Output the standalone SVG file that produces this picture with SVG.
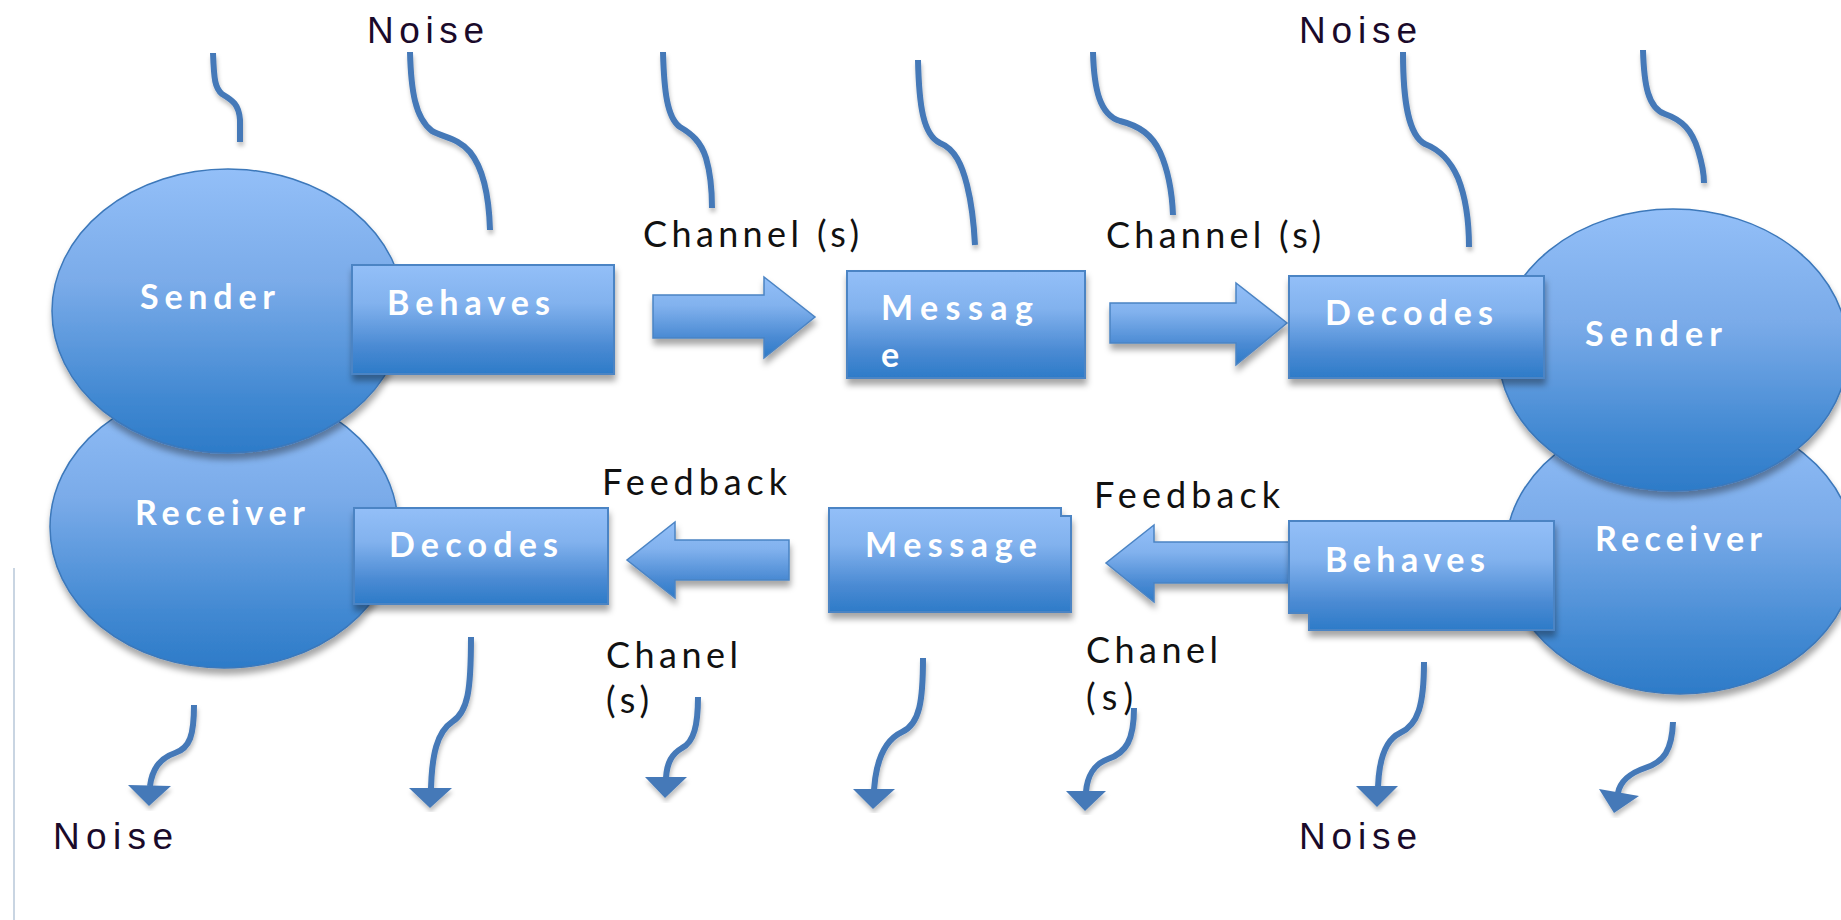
<svg xmlns="http://www.w3.org/2000/svg" width="1841" height="920" viewBox="0 0 1841 920">
<defs>
<linearGradient id="gBox" x1="0" y1="0" x2="0" y2="1">
<stop offset="0" stop-color="#93bff8"/>
<stop offset="0.35" stop-color="#82b2ee"/>
<stop offset="0.75" stop-color="#4a8ad3"/>
<stop offset="1" stop-color="#2d7bc8"/>
</linearGradient>
<linearGradient id="gEll" x1="0" y1="0" x2="0" y2="1">
<stop offset="0" stop-color="#93bff8"/>
<stop offset="0.4" stop-color="#7aabe9"/>
<stop offset="0.8" stop-color="#4289d2"/>
<stop offset="1" stop-color="#2d7bc8"/>
</linearGradient>
<filter id="sh" x="-10%" y="-10%" width="120%" height="130%">
<feDropShadow dx="1" dy="6" stdDeviation="3" flood-color="#000" flood-opacity="0.35"/>
</filter>
<filter id="shs" x="-30%" y="-10%" width="160%" height="130%">
<feDropShadow dx="1" dy="4" stdDeviation="2" flood-color="#000" flood-opacity="0.25"/>
</filter>
</defs>
<style>
.ell{fill:url(#gEll);stroke:#3c78ba;stroke-width:1.5;filter:url(#sh)}
.box{fill:url(#gBox);stroke:#4b84c4;stroke-width:2;filter:url(#sh)}
.barrow{fill:url(#gBox);stroke:#4b84c4;stroke-width:1.5;filter:url(#sh)}
.sq{fill:none;stroke:#4579b8;stroke-width:6;filter:url(#shs)}
.ah{fill:#4579b8;filter:url(#shs)}
.wt{font-family:Lato,"Open Sans","Liberation Sans",sans-serif;font-weight:bold;font-size:34px;fill:#ffffff}
.lb{font-family:Lato,"Open Sans","Liberation Sans",sans-serif;font-size:36px;fill:#111111}
.nz{font-family:"Liberation Sans",Arial,sans-serif;font-size:37px;fill:#1a0a2a}
</style>
<rect width="1841" height="920" fill="#ffffff"/>
<line x1="14" y1="568" x2="14" y2="920" stroke="#c9d5e2" stroke-width="2"/>

<g id="connectors">
<path class="barrow" d="M653,295 L764,295 L764,277 L815,317 L764,358 L764,338 L653,338 Z"/>
<path class="barrow" d="M1110,303 L1236,303 L1236,283 L1287,323 L1236,365 L1236,343 L1110,343 Z"/>
<path class="barrow" d="M789,540 L675,540 L675,522 L627,560 L675,598 L675,580 L789,580 Z"/>
<path class="barrow" d="M1300,542 L1154,542 L1154,525 L1106,563 L1154,602 L1154,583 L1300,583 Z"/>
<path class="sq" d="M213,53 C214,80 215,88 222,94 C232,100 239,104 240,120 L240,142"/>
<path class="sq" d="M410,52 C411,90 415,118 432,131 C445,138 458,138 470,152 C483,168 489,195 490,230"/>
<path class="sq" d="M663,52 C664,90 667,118 680,127 C692,134 701,142 706,158 C711,175 712,190 712,208"/>
<path class="sq" d="M918,60 C919,105 923,135 940,143 C955,149 962,165 967,185 C972,205 974,225 975,245"/>
<path class="sq" d="M1093,52 C1094,90 1100,115 1120,121 C1140,126 1152,135 1160,152 C1168,170 1172,190 1173,215"/>
<path class="sq" d="M1403,52 C1403,100 1408,135 1425,144 C1440,150 1450,160 1458,178 C1466,198 1469,225 1469,247"/>
<path class="sq" d="M1643,50 C1644,85 1648,108 1665,114 C1682,120 1692,130 1698,150 C1702,163 1704,175 1704,183"/>
<path class="sq" d="M194,705 C194,735 190,748 175,753 C160,758 152,770 150,786"/>
<polygon class="ah" points="128,785 171,786 149,806"/>
<path class="sq" d="M471,637 C471,690 468,712 452,722 C437,732 432,755 431,788"/>
<polygon class="ah" points="409,788 452,788 430,808"/>
<path class="sq" d="M698,697 C698,725 694,742 682,748 C672,754 667,762 666,778"/>
<polygon class="ah" points="645,777 687,777 665,798"/>
<path class="sq" d="M923,658 C923,700 920,724 902,732 C885,740 876,760 874,790"/>
<polygon class="ah" points="853,789 895,789 873,809"/>
<path class="sq" d="M1134,708 C1134,740 1126,753 1108,759 C1094,764 1087,777 1086,792"/>
<polygon class="ah" points="1066,791 1106,791 1085,811"/>
<path class="sq" d="M1424,662 C1424,705 1418,725 1400,733 C1385,740 1379,760 1378,787"/>
<polygon class="ah" points="1356,786 1398,786 1377,807"/>
<path class="sq" d="M1673,722 C1672,750 1664,762 1645,768 C1630,773 1620,782 1618,793"/>
<polygon class="ah" points="1599,789 1639,796 1614,813"/>
</g>

<g id="receiver-left">
<ellipse class="ell" cx="224" cy="527" rx="174" ry="141"/>
<text class="wt" x="135" y="525" textLength="170" lengthAdjust="spacing">Receiver</text>
</g>
<g id="sender-left">
<ellipse class="ell" cx="228" cy="311" rx="176" ry="142"/>
<text class="wt" x="140" y="309" textLength="135" lengthAdjust="spacing">Sender</text>
</g>
<g id="behaves-top">
<rect class="box" x="352" y="265" width="262" height="109"/>
<text class="wt" x="387" y="315" textLength="163" lengthAdjust="spacing">Behaves</text>
</g>
<g id="message-top">
<rect class="box" x="847" y="271" width="238" height="107"/>
<text class="wt" x="881" y="320" textLength="152" lengthAdjust="spacing">Messag</text>
<text class="wt" x="881" y="367">e</text>
</g>
<g id="receiver-right">
<ellipse class="ell" cx="1680" cy="553" rx="175" ry="141"/>
</g>
<g id="sender-right">
<ellipse class="ell" cx="1673" cy="350" rx="175" ry="141"/>
<text class="wt" x="1585" y="346" textLength="137" lengthAdjust="spacing">Sender</text>
</g>
<g id="receiver-right-label">
<text class="wt" x="1595" y="551" textLength="167" lengthAdjust="spacing">Receiver</text>
</g>
<g id="decodes-top">
<rect class="box" x="1289" y="276" width="255" height="102"/>
<text class="wt" x="1325" y="325" textLength="168" lengthAdjust="spacing">Decodes</text>
</g>
<g id="decodes-bottom">
<rect class="box" x="354" y="508" width="254" height="96"/>
<text class="wt" x="389" y="557" textLength="169" lengthAdjust="spacing">Decodes</text>
</g>
<g id="message-bottom">
<path class="box" d="M829,508 L1061,508 L1061,516 L1071,516 L1071,612 L829,612 Z"/>
<text class="wt" x="865" y="557" textLength="172" lengthAdjust="spacing">Message</text>
</g>
<g id="behaves-bottom">
<path class="box" d="M1289,521 L1554,521 L1554,630 L1309,630 L1309,613 L1289,613 Z"/>
<text class="wt" x="1325" y="572" textLength="160" lengthAdjust="spacing">Behaves</text>
</g>

<g id="labels">
<text class="nz" x="367" y="43" textLength="117" lengthAdjust="spacing">Noise</text>
<text class="nz" x="1299" y="43" textLength="118" lengthAdjust="spacing">Noise</text>
<text class="nz" x="53" y="849" textLength="120" lengthAdjust="spacing">Noise</text>
<text class="nz" x="1299" y="849" textLength="118" lengthAdjust="spacing">Noise</text>
<text class="lb" x="643" y="247" textLength="216" lengthAdjust="spacing">Channel (s)</text>
<text class="lb" x="1106" y="248" textLength="215" lengthAdjust="spacing">Channel (s)</text>
<text class="lb" x="602" y="495" textLength="185" lengthAdjust="spacing">Feedback</text>
<text class="lb" x="1094" y="508" textLength="186" lengthAdjust="spacing">Feedback</text>
<text class="lb" x="606" y="668" textLength="132" lengthAdjust="spacing">Chanel</text>
<text class="lb" x="606" y="713" textLength="43" lengthAdjust="spacing">(s)</text>
<text class="lb" x="1086" y="663" textLength="132" lengthAdjust="spacing">Chanel</text>
<text class="lb" x="1086" y="710" textLength="47" lengthAdjust="spacing">(s)</text>
</g>
</svg>
